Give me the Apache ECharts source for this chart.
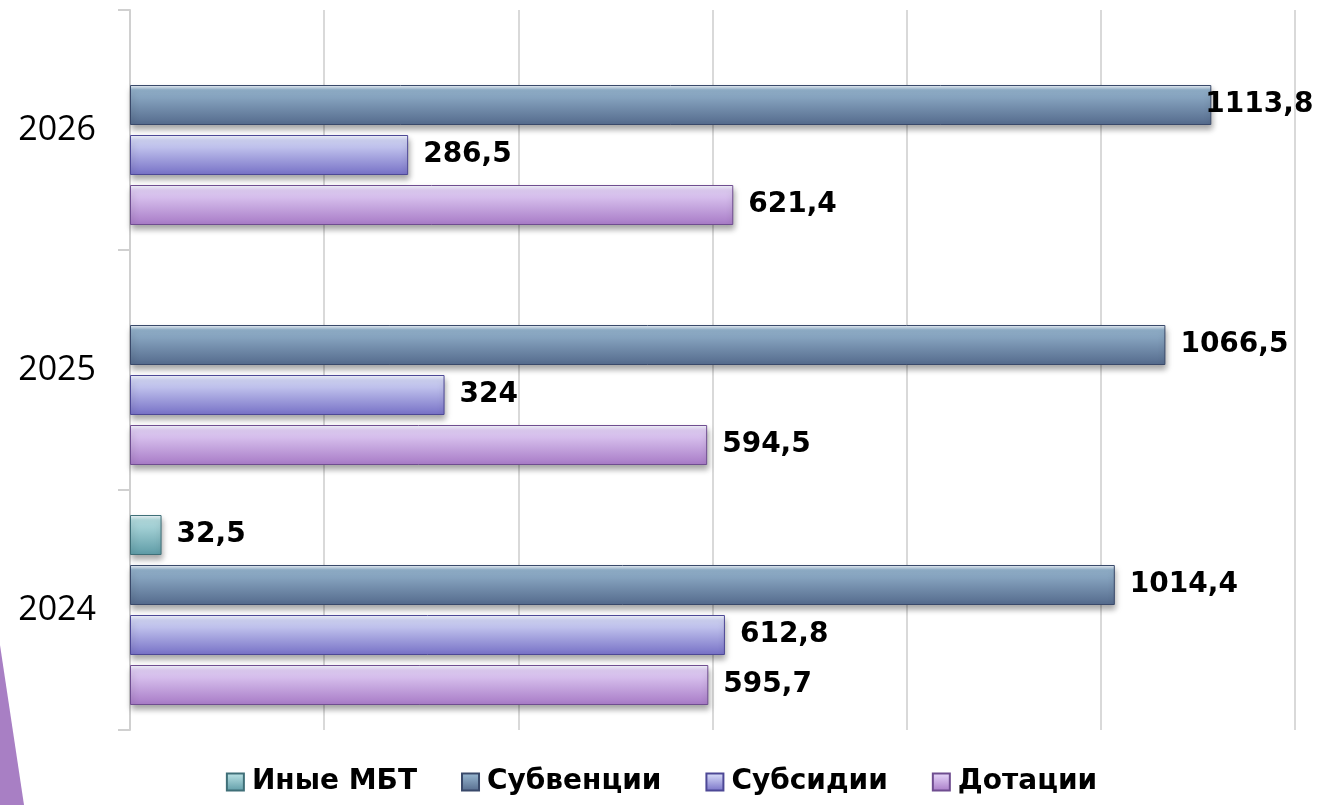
<!DOCTYPE html>
<html>
<head>
<meta charset="utf-8">
<script src="https://cdn.jsdelivr.net/npm/echarts@6/dist/echarts.min.js"></script>
<style>
  html, body { margin: 0; padding: 0; background: #fff; }
  #chart { width: 1323px; height: 805px; }
</style>
</head>
<body>
<div id="chart"></div>
<script>
const years = ['2024', '2025', '2026'];
const inyeMbt = [32.5, null, null];
const subventsii = [1014.4, 1066.5, 1113.8];
const subsidii = [612.8, 324, 286.5];
const dotatsii = [595.7, 594.5, 621.4];
const seriesNames = ['Иные МБТ', 'Субвенции', 'Субсидии', 'Дотации'];

const palette = [
  { top: '#b4dde0', bottom: '#5e9ba6', border: '#3f6f78' },
  { top: '#93b2cc', bottom: '#546a8c', border: '#39496a' },
  { top: '#d2d6f6', bottom: '#7670c6', border: '#4d4896' },
  { top: '#e2d0f6', bottom: '#a77ac6', border: '#6f4d90' }
];

function grad(c) {
  return new echarts.graphic.LinearGradient(0, 0, 0, 1, [
    { offset: 0, color: '#f4f8fc' },
    { offset: 0.12, color: c.top },
    { offset: 1, color: c.bottom }
  ]);
}

function makeSeries(name, values, c) {
  return {
    name: name,
    type: 'bar',
    barWidth: 40,
    barGap: '25%',
    // the biggest value label is squeezed back over the bar end, like in the original
    data: values.map(v => v > 1100 ? { value: v, label: { distance: -6 } } : v),
    itemStyle: {
      color: grad(c),
      borderColor: c.border,
      borderWidth: 1,
      shadowColor: 'rgba(0,0,0,0.35)',
      shadowBlur: 6,
      shadowOffsetY: 4,
      shadowOffsetX: 1
    },
    label: {
      show: true,
      position: 'right',
      distance: 15,
      fontFamily: 'DejaVu Sans',
      fontWeight: 'bold',
      fontSize: 28,
      color: '#000',
      formatter: p => String(p.value).replace('.', ',')
    }
  };
}

const chart = echarts.init(document.getElementById('chart'));
chart.setOption({
  animation: false,
  grid: { left: 130, right: 28, top: 10, bottom: 75 },
  legend: {
    data: seriesNames,
    bottom: 4,
    left: 'center',
    icon: 'rect',
    itemWidth: 17,
    itemHeight: 17,
    itemGap: 44,
    textStyle: {
      fontFamily: 'DejaVu Sans',
      fontWeight: 'bold',
      fontSize: 28,
      color: '#000',
      padding: [0, 0, 0, 3]
    }
  },
  xAxis: {
    type: 'value',
    min: 0,
    max: 1200,
    interval: 200,
    axisLabel: { show: false },
    axisLine: { show: false },
    axisTick: { show: false },
    splitLine: { lineStyle: { color: '#d9d9d9', width: 2 } }
  },
  yAxis: {
    type: 'category',
    data: years,
    axisLine: { show: true, lineStyle: { color: '#d0d0d0', width: 2 } },
    axisTick: { show: true, length: 12, lineStyle: { color: '#d0d0d0', width: 2 } },
    axisLabel: {
      fontFamily: 'Open Sans',
      fontSize: 34,
      color: '#000',
      margin: 34
    }
  },
  graphic: [{
    type: 'polygon',
    shape: { points: [[0, 645], [24, 805], [0, 805]] },
    style: { fill: '#a87fc4' }
  }],
  series: [
    makeSeries(seriesNames[0], inyeMbt, palette[0]),
    makeSeries(seriesNames[1], subventsii, palette[1]),
    makeSeries(seriesNames[2], subsidii, palette[2]),
    makeSeries(seriesNames[3], dotatsii, palette[3])
  ]
});
</script>
</body>
</html>
